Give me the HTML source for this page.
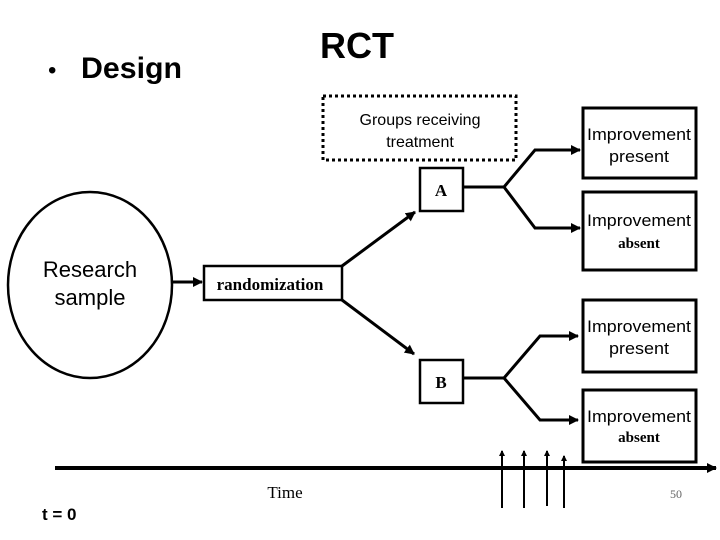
<!DOCTYPE html>
<html><head><style>
body{margin:0;width:720px;height:540px;background:#fff;overflow:hidden}
svg{display:block}
</style></head><body>
<svg width="720" height="540" viewBox="0 0 720 540" xmlns="http://www.w3.org/2000/svg">
<defs>
<marker id="ah" markerWidth="10" markerHeight="10" refX="9" refY="5" orient="auto" markerUnits="userSpaceOnUse">
<path d="M0,0 L10,5 L0,10 z" fill="#000"/></marker>
<marker id="as" markerWidth="6" markerHeight="7" refX="5" refY="3" orient="auto" markerUnits="userSpaceOnUse">
<path d="M0,0 L6,3 L0,6 z" fill="#000"/></marker>
</defs>
<g font-family="Liberation Sans, sans-serif">
<text x="48" y="78" font-size="24">•</text>
<text x="81" y="78" font-size="30" font-weight="bold" textLength="101" lengthAdjust="spacingAndGlyphs">Design</text>
<text x="320" y="58" font-size="36" font-weight="bold">RCT</text>
</g>
<ellipse cx="90" cy="285" rx="82" ry="93" fill="none" stroke="#000" stroke-width="2.5"/>
<text x="90" y="277" font-family="Liberation Sans, sans-serif" font-size="22" text-anchor="middle">Research</text>
<text x="90" y="305" font-family="Liberation Sans, sans-serif" font-size="22" text-anchor="middle">sample</text>
<line x1="172" y1="282" x2="202" y2="282" stroke="#000" stroke-width="3" marker-end="url(#ah)"/>
<rect x="204" y="266" width="138" height="34" fill="none" stroke="#000" stroke-width="2.5"/>
<text x="270" y="290" font-family="Liberation Serif, serif" font-size="17" font-weight="bold" text-anchor="middle">randomization</text>
<line x1="342" y1="266" x2="415" y2="212" stroke="#000" stroke-width="3" marker-end="url(#ah)"/>
<line x1="342" y1="300" x2="414" y2="354" stroke="#000" stroke-width="3" marker-end="url(#ah)"/>
<rect x="323" y="96" width="193" height="64" fill="none" stroke="#000" stroke-width="3" stroke-dasharray="3,3"/>
<text x="420" y="125" font-family="Liberation Sans, sans-serif" font-size="16" text-anchor="middle">Groups receiving</text>
<text x="420" y="147" font-family="Liberation Sans, sans-serif" font-size="16" text-anchor="middle">treatment</text>
<rect x="420" y="168" width="43" height="43" fill="none" stroke="#000" stroke-width="2.5"/>
<text x="441" y="196" font-family="Liberation Serif, serif" font-size="17" font-weight="bold" text-anchor="middle">A</text>
<rect x="420" y="360" width="43" height="43" fill="none" stroke="#000" stroke-width="2.5"/>
<text x="441" y="388" font-family="Liberation Serif, serif" font-size="17" font-weight="bold" text-anchor="middle">B</text>
<g fill="none" stroke="#000" stroke-width="3">
<polyline points="463,187 504,187 535,150 580,150" marker-end="url(#ah)"/>
<polyline points="504,187 535,228 580,228" marker-end="url(#ah)"/>
<polyline points="463,378 504,378 540,336 578,336" marker-end="url(#ah)"/>
<polyline points="504,378 540,420 578,420" marker-end="url(#ah)"/>
</g>
<g fill="none" stroke="#000" stroke-width="3">
<rect x="583" y="108" width="113" height="70"/>
<rect x="583" y="192" width="113" height="78"/>
<rect x="583" y="300" width="113" height="72"/>
<rect x="583" y="390" width="113" height="72"/>
</g>
<g font-family="Liberation Sans, sans-serif" font-size="17" text-anchor="middle">
<text x="639" y="140" textLength="104" lengthAdjust="spacingAndGlyphs">Improvement</text><text x="639" y="162" textLength="60" lengthAdjust="spacingAndGlyphs">present</text>
<text x="639" y="226" textLength="104" lengthAdjust="spacingAndGlyphs">Improvement</text>
<text x="639" y="332" textLength="104" lengthAdjust="spacingAndGlyphs">Improvement</text><text x="639" y="354" textLength="60" lengthAdjust="spacingAndGlyphs">present</text>
<text x="639" y="422" textLength="104" lengthAdjust="spacingAndGlyphs">Improvement</text>
</g>
<g font-family="Liberation Serif, serif" font-size="15" font-weight="bold" text-anchor="middle">
<text x="639" y="248">absent</text><text x="639" y="442">absent</text>
</g>
<line x1="55" y1="468" x2="716" y2="468" stroke="#000" stroke-width="4" marker-end="url(#ah)"/>
<g stroke="#000" stroke-width="2">
<line x1="502" y1="508" x2="502" y2="451" marker-end="url(#as)"/>
<line x1="524" y1="508" x2="524" y2="451" marker-end="url(#as)"/>
<line x1="547" y1="506" x2="547" y2="451" marker-end="url(#as)"/>
<line x1="564" y1="508" x2="564" y2="456" marker-end="url(#as)"/>
</g>
<text x="285" y="498" font-family="Liberation Serif, serif" font-size="17" text-anchor="middle">Time</text>
<text x="676" y="498" font-family="Liberation Serif, serif" font-size="12" fill="#666" text-anchor="middle">50</text>
<text x="42" y="520" font-family="Liberation Sans, sans-serif" font-size="17" font-weight="bold">t = 0</text>
</svg>
</body></html>
